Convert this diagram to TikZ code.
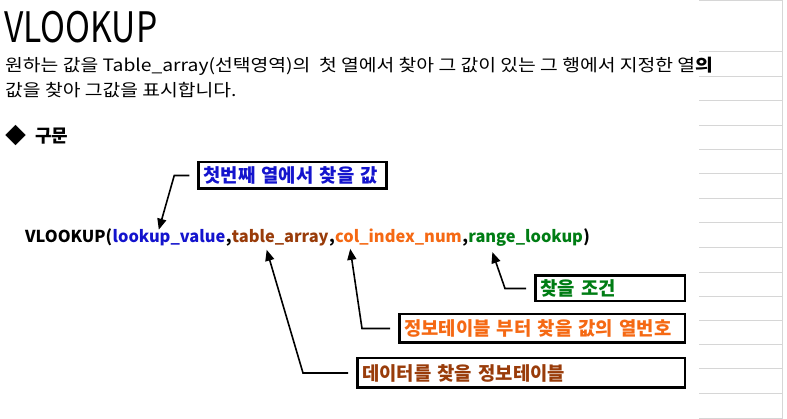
\documentclass[tikz,border=0pt]{standalone}
\usepackage{fontspec}
\setmainfont{Noto Sans CJK KR}
\usepackage{xcolor}
\usetikzlibrary{arrows.meta,positioning,calc}
\definecolor{argblue}{RGB}{20,20,205}
\definecolor{argbrown}{RGB}{153,60,10}
\definecolor{argorange}{RGB}{245,105,20}
\definecolor{arggreen}{RGB}{0,125,20}
\definecolor{cellgrid}{gray}{0.84}
\tikzset{
  txt/.style={anchor=base west, inner sep=0pt, font=\fontsize{17}{19}\selectfont},
  part/.style={anchor=base west, inner sep=0pt, font=\fontsize{16.4}{18}\selectfont\bfseries},
  note/.style={draw, line width=2.5pt, inner xsep=5pt, inner ysep=0pt, align=left,
               font=\fontsize{18.8}{20}\selectfont\bfseries},
  fl/.style={-{Triangle[length=11pt,width=9pt]}, line width=1.6pt, shorten <=8pt},
  grid/.style={cellgrid, line width=1pt},
}
\begin{document}
\begin{tikzpicture}[x=1pt, y=-1pt]
  \useasboundingbox (0,0) rectangle (787,419);
  \foreach \y in {1,52,77,101,126,150,174,199,223,248,273,297,321,345,369,394,418}
    \draw[grid] (699,\y) -- (782,\y);
  \draw[grid] (782,0) -- (782,419);

  \node[txt, font=\fontsize{42}{44}\selectfont, xscale=0.8] (title) at (4,43) {VLOOKUP};
  \node[txt, xscale=1.135] (desc1) at (5,72) {원하는 값을 Table\_array(선택영역)의\ \ 첫 열에서 찾아 그 값이 있는 그 행에서 지정한 열{\bfseries 의}};
  \node[txt, xscale=1.135] (desc2) at (5,97) {값을 찾아 그값을 표시합니다.};
  \node[txt, font=\fontsize{21}{22}\selectfont] (bullet) at (5,143.5) {◆};
  \node[txt, font=\fontsize{18}{20}\selectfont\bfseries] (syn) at (35,143) {구문};

  \node[part] (fn) at (25,243) {VLOOKUP(};
  \node[part, argblue] (lv) at (fn.base east) {lookup\_value};
  \node[part] (c1) at (lv.base east) {,};
  \node[part, argbrown] (ta) at (c1.base east) {table\_array};
  \node[part] (c2) at (ta.base east) {,};
  \node[part, argorange] (ci) at (c2.base east) {col\_index\_num};
  \node[part] (c3) at (ci.base east) {,};
  \node[part, arggreen] (rl) at (c3.base east) {range\_lookup};
  \node[part] (cp) at (rl.base east) {)};

  \node[note, argblue, draw=black, text width=178pt, minimum height=26.5pt] (nlv) at (292.5,175.5) {첫번째 열에서 찾을 값};
  \node[note, arggreen, draw=black, text width=139.5pt, minimum height=25.5pt] (nrl) at (610,288.5) {찾을 조건};
  \node[note, argorange, draw=black, text width=275.5pt, minimum height=28.5pt] (nci) at (542,328.5) {정보테이블 부터 찾을 값의 열번호};
  \node[note, argbrown, draw=black, text width=317.5pt, minimum height=29.5pt] (nta) at (521,373) {데이터를 찾을 정보테이블};

  \draw[fl] (nlv.west) -- ++(-23,0) -- ($(lv.north west)!0.41!(lv.north east)$);
  \draw[fl] (nrl.west) -- ++(-29,0) -- ($(rl.south west)!0.21!(rl.south east)+(0,5)$);
  \draw[fl] (nci.west) -- ++(-36,0) -- ($(ci.south west)!0.12!(ci.south east)+(0,3)$);
  \draw[fl] (nta.west) -- ++(-53,0) -- ($(ta.south west)!0.36!(ta.south east)+(0,3)$);
\end{tikzpicture}
\end{document}
